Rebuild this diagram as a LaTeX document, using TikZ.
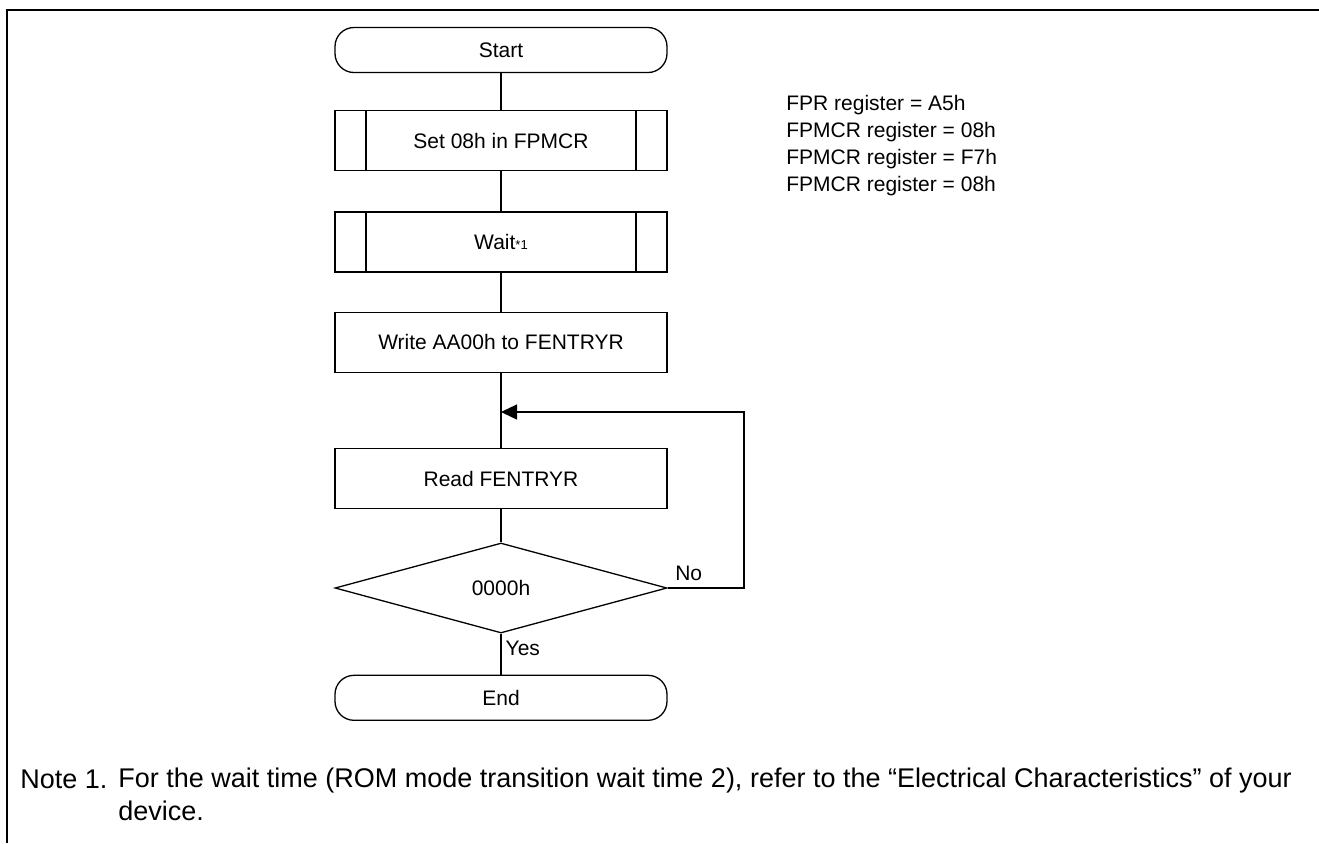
\documentclass[tikz,border=0pt]{standalone}
\usepackage{fontspec}
\setmainfont{Liberation Sans}
\usetikzlibrary{positioning,shapes.geometric,arrows.meta}
\tikzset{
    box_font/.style={font=\fontsize{10.5}{13.5}\selectfont},
    note_font/.style={font=\fontsize{13.5}{16.5}\selectfont},
    terminal/.style={draw, line width=0.65pt, rounded corners=9.5pt, minimum width=166pt, minimum height=22.5pt, box_font},
    process/.style={draw, line width=0.65pt, minimum width=166pt, minimum height=30pt, box_font},
    subroutine/.style={process, path picture={
        \draw[line width=0.65pt] ([xshift=15.5pt]path picture bounding box.north west) -- ([xshift=15.5pt]path picture bounding box.south west);
        \draw[line width=0.65pt] ([xshift=-15.5pt]path picture bounding box.north east) -- ([xshift=-15.5pt]path picture bounding box.south east);
    }},
    decision/.style={diamond, draw, line width=0.65pt, minimum width=166pt, minimum height=45pt, inner sep=0pt, box_font},
    line/.style={line width=0.65pt},
    flow_arrow/.style={line width=0.65pt, -{Triangle[length=8pt, width=7.5pt]}},
    frame_line/.style={line width=1.2pt}
}

\begin{document}
\begin{tikzpicture}[x=0.5pt, y=-0.5pt]
      \useasboundingbox (0,0) rectangle (1319,843);

      % --- Frame ---
      \coordinate (frame_tl) at (7,10);
      \coordinate (frame_tr) at (1319,10);
      \coordinate (frame_bl) at (7,843);
      \draw[frame_line] (frame_bl) -- (frame_tl) -- (frame_tr);

      % --- Flow nodes ---
      \node (start) [terminal] at (501,50) {Start};
      \node (setFPMCR) [subroutine, below=18.5pt of start.south] {Set 08h in FPMCR};
      \node (wait) [subroutine, below=20pt of setFPMCR.south] {Wait{\fontsize{6.5}{8}\selectfont *1}};
      \node (writeFENTRYR) [process, below=19.5pt of wait.south] {Write AA00h to FENTRYR};
      \node (readFENTRYR) [process, below=37.5pt of writeFENTRYR.south] {Read FENTRYR};
      \node (check) [decision, below=16.5pt of readFENTRYR.south] {0000h};
      \node (end) [terminal, below=20.5pt of check.south] {End};

      % --- Connectors ---
      \coordinate (join) at (501,412);
      \coordinate (loop_top) at (744,412);
      \draw[line] (start) -- (setFPMCR);
      \draw[line] (setFPMCR) -- (wait);
      \draw[line] (wait) -- (writeFENTRYR);
      \draw[line] (writeFENTRYR) -- (readFENTRYR);
      \draw[line] (readFENTRYR) -- (check);
      \draw[line] (check) -- (end) node[pos=0.35, right, inner sep=2pt, box_font] {Yes};
      \draw[flow_arrow] (check.east) node[above right, inner sep=3.5pt, box_font] {No} -| (loop_top) -- (join);

      % --- Register values ---
      \node (regs) [anchor=north west, align=left, inner sep=0pt, box_font] at (786,95)
          {FPR register = A5h\\FPMCR register = 08h\\FPMCR register = F7h\\FPMCR register = 08h};

      % --- Note ---
      \node (note_no) [anchor=base west, inner sep=0pt, note_font] at (20,788) {Note 1.};
      \node (note_txt) [anchor=north west, align=left, inner sep=0pt, note_font] at (118,768)
          {For the wait time (ROM mode transition wait time 2), refer to the “Electrical Characteristics” of your\\device.};
\end{tikzpicture}
\end{document}
